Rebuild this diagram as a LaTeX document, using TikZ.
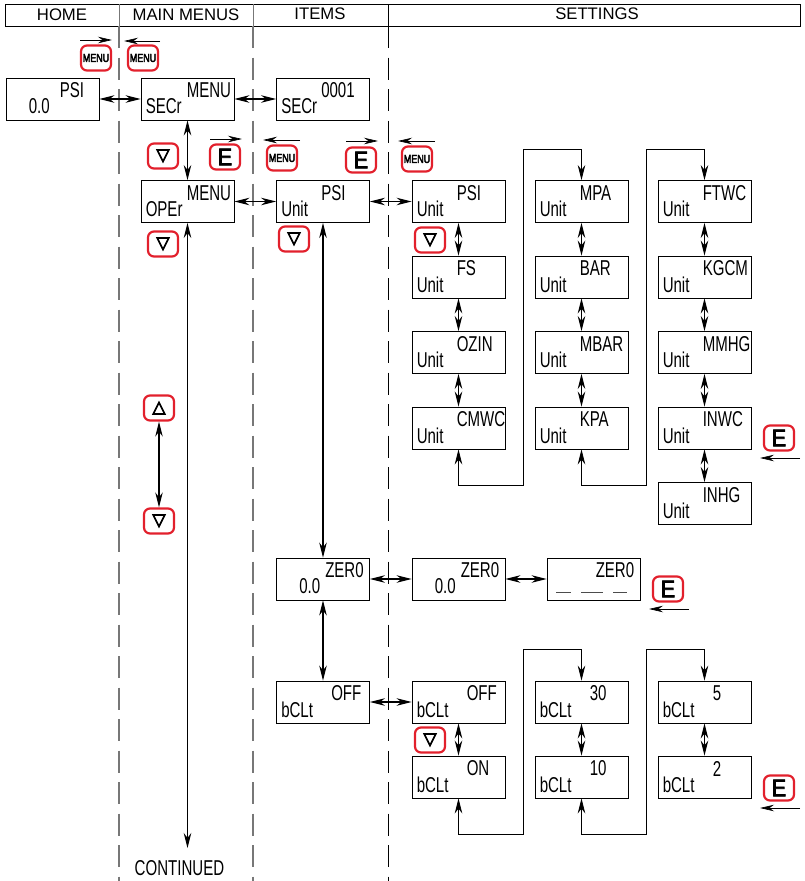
\documentclass[tikz,border=0pt]{standalone}
\usepackage{fontspec}
\setmainfont{Liberation Sans}
\newfontfamily\lcdfont[FakeStretch=0.7]{Liberation Sans}
\newfontfamily\keyfont[FakeStretch=0.78,FakeBold=3.5]{Liberation Sans}
\newfontfamily\entfont[FakeStretch=0.9,FakeBold=3]{Liberation Sans}
\newfontfamily\symfont[FakeBold=5]{DejaVu Sans}
\usetikzlibrary{arrows.meta,positioning}
\definecolor{keyred}{HTML}{E2202C}
\definecolor{lanegray}{HTML}{777777}
\tikzset{
  lcdtxt/.style={inner sep=0pt,anchor=west,font=\lcdfont\fontsize{21.5}{23}\selectfont},
  uptxt/.style 2 args={label={[lcdtxt,xshift=#1pt,yshift=-13pt]north west:#2}},
  lowtxt/.style 2 args={label={[lcdtxt,xshift=#1pt,yshift=-29pt]north west:#2}},
  dispbox/.style={draw,line width=0.9pt,minimum width=93pt,minimum height=42pt,inner sep=0pt},
  keybox/.style={draw=keyred,line width=2.2pt,rounded corners=6pt,minimum width=30pt,minimum height=25pt,inner sep=0pt},
  menukey/.style={keybox,font=\keyfont\fontsize{11.5}{11}\selectfont},
  ekey/.style={keybox,font=\entfont\fontsize{24}{24}\selectfont},
  arrowkey/.style={keybox,font=\symfont\fontsize{17}{17}\selectfont},
  twoway/.style={line width=1.1pt,{Stealth[length=15pt,width=7.5pt]}-{Stealth[length=15pt,width=7.5pt]}},
  wrapline/.style={twoway,line width=0.8pt},
  keyarrow/.style={line width=0.7pt,-{Stealth[length=14pt,width=6.5pt]}},
  laneline/.style={line width=1.2pt,lanegray,dash pattern=on 22pt off 9.5pt},
  lanelineb/.style={line width=0.8pt,dash pattern=on 22pt off 9.5pt},
  headtxt/.style={inner sep=0pt,font=\fontsize{16.7}{18}\selectfont}
}
\begin{document}
\begin{tikzpicture}[x=1pt,y=-1pt]
    \useasboundingbox (0,0) rectangle (805,881);

    % Header row
    \node[draw,line width=0.9pt,minimum width=795pt,minimum height=22pt,inner sep=0pt] (header) at (402.5,15) {};
    \node[headtxt] (home) at (62,15) {HOME};
    \node[headtxt] (mainmenus) at (186,15) {MAIN MENUS};
    \node[headtxt] (items) at (320,14) {ITEMS};
    \node[headtxt] (settings) at (597,14) {SETTINGS};
    \draw[line width=0.9pt,lanegray] (119,4) -- (119,26);
    \draw[line width=0.9pt,lanegray] (253,4) -- (253,26);
    \draw[line width=0.9pt] (388,4) -- (388,26);

    % Lane boundaries
    \draw[laneline] (119,26) -- (119,881);
    \draw[laneline] (253,26) -- (253,881);
    \draw[lanelineb] (388,26) -- (388,881);

    % Top row
    \node[dispbox,uptxt={54}{PSI},lowtxt={23}{0.0}] (homepsi) at (52.5,99) {};
    \node[dispbox,uptxt={46}{MENU},lowtxt={5}{SECr}] (secr) at (187.5,99) {};
    \node[dispbox,uptxt={45}{0001},lowtxt={5}{SECr}] (secrval) at (323,99) {};

    % Second row
    \node[dispbox,uptxt={46}{MENU},lowtxt={5}{OPEr}] (oper) at (187.5,201.5) {};
    \node[dispbox,uptxt={45}{PSI},lowtxt={5}{Unit}] (unititem) at (323,201.5) {};

    % Units, first column
    \node[dispbox,uptxt={45}{PSI},lowtxt={5}{Unit}] (psi) at (458.5,201.5) {};
    \node[dispbox,uptxt={45}{FS},lowtxt={5}{Unit}] (fs) at (458.5,277) {};
    \node[dispbox,uptxt={45}{OZIN},lowtxt={5}{Unit}] (ozin) at (458.5,352.5) {};
    \node[dispbox,uptxt={45}{CMWC},lowtxt={5}{Unit}] (cmwc) at (458.5,428) {};

    % Units, second column
    \node[dispbox,uptxt={45}{MPA},lowtxt={5}{Unit}] (mpa) at (581.5,201.5) {};
    \node[dispbox,uptxt={45}{BAR},lowtxt={5}{Unit}] (bar) at (581.5,277) {};
    \node[dispbox,uptxt={45}{MBAR},lowtxt={5}{Unit}] (mbar) at (581.5,352.5) {};
    \node[dispbox,uptxt={45}{KPA},lowtxt={5}{Unit}] (kpa) at (581.5,428) {};

    % Units, third column
    \node[dispbox,uptxt={45}{FTWC},lowtxt={5}{Unit}] (ftwc) at (704.5,201.5) {};
    \node[dispbox,uptxt={45}{KGCM},lowtxt={5}{Unit}] (kgcm) at (704.5,277) {};
    \node[dispbox,uptxt={45}{MMHG},lowtxt={5}{Unit}] (mmhg) at (704.5,352.5) {};
    \node[dispbox,uptxt={45}{INWC},lowtxt={5}{Unit}] (inwc) at (704.5,428) {};
    \node[dispbox,uptxt={45}{INHG},lowtxt={5}{Unit}] (inhg) at (704.5,503.5) {};

    % Zero row
    \node[dispbox,uptxt={49}{ZER0},lowtxt={23}{0.0}] (zeroitem) at (323,579) {};
    \node[dispbox,uptxt={49}{ZER0},lowtxt={23}{0.0}] (zeroset) at (458.5,579) {};
    \node[dispbox,uptxt={49}{ZER0}] (zerodash) at (593.5,579) {};
    \draw[line width=0.5pt,black!70] (556,592) -- (571,592) (581,592) -- (603,592) (613,592) -- (627,592);

    % Backlight rows
    \node[dispbox,uptxt={55}{OFF},lowtxt={5}{bCLt}] (bcltitem) at (323,702) {};
    \node[dispbox,uptxt={55}{OFF},lowtxt={5}{bCLt}] (bcltoff) at (458.5,702) {};
    \node[dispbox,uptxt={55}{ON},lowtxt={5}{bCLt}] (bclton) at (458.5,777) {};
    \node[dispbox,uptxt={55}{30},lowtxt={5}{bCLt}] (bcltc) at (581.5,702) {};
    \node[dispbox,uptxt={55}{10},lowtxt={5}{bCLt}] (bcltd) at (581.5,777) {};
    \node[dispbox,uptxt={55}{5},lowtxt={5}{bCLt}] (bclte) at (704.5,702) {};
    \node[dispbox,uptxt={55}{2},lowtxt={5}{bCLt}] (bcltf) at (704.5,777) {};

    \node[lcdtxt] (continued) at (134.5,868) {CONTINUED};

    % Keys
    \node[menukey] (menua) at (96,58) {MENU};
    \node[menukey] (menub) at (143,58) {MENU};
    \node[menukey] (menuc) at (282,158) {MENU};
    \node[menukey] (menud) at (417,159) {MENU};
    \node[ekey] (enta) at (225,157) {E};
    \node[ekey] (entb) at (361,160) {E};
    \node[ekey] (entc) at (779,438) {E};
    \node[ekey] (entd) at (668,589) {E};
    \node[ekey] (ente) at (779,788) {E};
    \node[arrowkey] (downa) at (163,156) {▽};
    \node[arrowkey] (downb) at (163,244) {▽};
    \node[arrowkey] (downc) at (294,239) {▽};
    \node[arrowkey] (downd) at (430,240) {▽};
    \node[arrowkey] (downe) at (430,740) {▽};
    \node[arrowkey] (downf) at (159,521) {▽};
    \node[arrowkey] (upa) at (159,408) {△};

    % Free ends of the key arrows
    \coordinate (menuaL) at (80,40);   \coordinate (menuaR) at (112,40);
    \coordinate (menubL) at (124,41);  \coordinate (menubR) at (160,41);
    \coordinate (entaL) at (210,139);  \coordinate (entaR) at (242,139);
    \coordinate (menucL) at (263,140); \coordinate (menucR) at (300,140);
    \coordinate (entbL) at (346,141);  \coordinate (entbR) at (378,141);
    \coordinate (menudL) at (398,141); \coordinate (menudR) at (435,141);
    \coordinate (entcL) at (760,458);  \coordinate (entcR) at (800,458);
    \coordinate (entdL) at (649,609);  \coordinate (entdR) at (689,609);
    \coordinate (enteL) at (760,808);  \coordinate (enteR) at (800,808);
    \draw[keyarrow] (menuaL) -- (menuaR);
    \draw[keyarrow] (menubR) -- (menubL);
    \draw[keyarrow] (entaL) -- (entaR);
    \draw[keyarrow] (menucR) -- (menucL);
    \draw[keyarrow] (entbL) -- (entbR);
    \draw[keyarrow] (menudR) -- (menudL);
    \draw[keyarrow] (entcR) -- (entcL);
    \draw[keyarrow] (entdR) -- (entdL);
    \draw[keyarrow] (enteR) -- (enteL);

    % Connections between screens
    \draw[twoway] (homepsi) -- (secr);
    \draw[twoway] (secr) -- (secrval);
    \draw[twoway] (oper) -- (unititem);
    \draw[twoway] (unititem) -- (psi);
    \draw[twoway] (zeroitem) -- (zeroset);
    \draw[twoway] (zeroset) -- (zerodash);
    \draw[twoway] (bcltitem) -- (bcltoff);
    \draw[twoway] (secr) -- (oper);
    \draw[twoway] (unititem) -- (zeroitem);
    \draw[twoway] (zeroitem) -- (bcltitem);
    \draw[twoway] (psi) -- (fs);
    \draw[twoway] (fs) -- (ozin);
    \draw[twoway] (ozin) -- (cmwc);
    \draw[twoway] (mpa) -- (bar);
    \draw[twoway] (bar) -- (mbar);
    \draw[twoway] (mbar) -- (kpa);
    \draw[twoway] (ftwc) -- (kgcm);
    \draw[twoway] (kgcm) -- (mmhg);
    \draw[twoway] (mmhg) -- (inwc);
    \draw[twoway] (inwc) -- (inhg);
    \draw[twoway] (bcltoff) -- (bclton);
    \draw[twoway] (bcltc) -- (bcltd);
    \draw[twoway] (bclte) -- (bcltf);
    \draw[twoway] (upa) -- (downf);
    \coordinate (contend) at (187.5,848);
    \draw[twoway] (oper) -- (contend);

    % Wrap-around lines
    \coordinate (wrapa) at (523,485); \coordinate (wrapb) at (523,149.5);
    \coordinate (wrapc) at (646,485); \coordinate (wrapd) at (646,149.5);
    \coordinate (wrape) at (523,834); \coordinate (wrapf) at (523,649);
    \coordinate (wrapg) at (646,834); \coordinate (wraph) at (646,649);
    \draw[wrapline] (cmwc.south) |- (wrapa) -- (wrapb) -| (mpa.north);
    \draw[wrapline] (kpa.south) |- (wrapc) -- (wrapd) -| (ftwc.north);
    \draw[wrapline] (bclton.south) |- (wrape) -- (wrapf) -| (bcltc.north);
    \draw[wrapline] (bcltd.south) |- (wrapg) -- (wraph) -| (bclte.north);
\end{tikzpicture}
\end{document}
